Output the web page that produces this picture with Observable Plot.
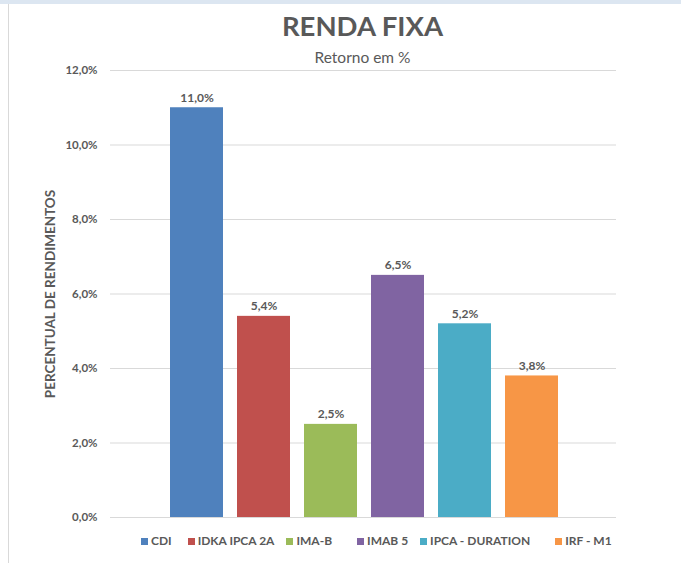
<!DOCTYPE html>
<html><head><meta charset="utf-8">
<script src="https://cdn.jsdelivr.net/npm/d3@7"></script>
<script src="https://cdn.jsdelivr.net/npm/@observablehq/plot@0.6"></script>
<style>
html,body{margin:0;padding:0;background:#fff;}
body{width:681px;height:563px;overflow:hidden;position:relative;font-family:Lato,"Open Sans",sans-serif;color:#595959;}
#topbar{position:absolute;left:0;top:0;width:681px;height:4px;background:#dce6f1;z-index:2;}
#leftline{position:absolute;left:8px;top:4px;width:1px;height:559px;background:#d9d9d9;z-index:2;}
#title{position:absolute;left:0;top:9px;width:725px;text-align:center;font-weight:700;font-size:27.5px;line-height:34px;}
#subtitle{position:absolute;left:0;top:47px;width:725px;text-align:center;font-size:15.5px;line-height:20px;}
#chart{position:absolute;left:0;top:64px;}
#chart svg{background:transparent !important;}
#legend{position:absolute;left:141px;top:533px;display:flex;gap:0;font-weight:700;font-size:12px;line-height:16px;}
#legend .it{display:flex;align-items:center;}
#legend .sw{width:7px;height:7px;margin-right:3px;}
</style></head>
<body>
<div id="topbar"></div>
<div id="leftline"></div>
<div id="title">RENDA FIXA</div>
<div id="subtitle">Retorno em %</div>
<div id="chart"></div>
<div id="legend"></div>
<script>
const categories = ["CDI", "IDKA IPCA 2A", "IMA-B", "IMAB 5", "IPCA - DURATION", "IRF - M1"];
const values = [11.0, 5.4, 2.5, 6.5, 5.2, 3.8];
const colors = ["#4f81bd", "#c0504d", "#9bbb59", "#8064a2", "#4bacc6", "#f79646"];
const yTicks = [0, 2, 4, 6, 8, 10, 12];
const yLabel = "PERCENTUAL DE RENDIMENTOS";

const data = categories.map((c, i) => ({cat: c, value: values[i]}));
const fmt = d => d.toFixed(1).replace(".", ",") + "%";

const chart = Plot.plot({
  width: 681,
  height: 463,
  marginTop: 6,
  marginBottom: 10,
  marginLeft: 110,
  marginRight: 65,
  style: {fontFamily: "Lato, 'Open Sans', sans-serif", color: "#595959", background: "transparent"},
  x: {domain: categories, paddingInner: 0.21, paddingOuter: 0.105, range: [162, 565], axis: null},
  y: {domain: [0, 12], ticks: yTicks},
  color: {domain: categories, range: colors},
  marks: [
    Plot.gridY(yTicks, {stroke: "#d9d9d9", strokeOpacity: 1, strokeWidth: 1}),
    Plot.axisY(yTicks, {tickSize: 0, tickPadding: 13, tickFormat: fmt, label: null, fontWeight: "bold", fontSize: 11.5, fill: "#595959"}),
    Plot.barY(data, {x: "cat", y: "value", fill: "cat"}),
    Plot.text(data, {x: "cat", y: "value", text: d => fmt(d.value), lineAnchor: "bottom", dy: -6, fontWeight: "bold", fontSize: 12, fill: "#595959"}),
    Plot.text([yLabel], {frameAnchor: "left", textAnchor: "middle", dx: -60, rotate: -90, text: d => d, fontWeight: "bold", fontSize: 13.5, fill: "#595959"})
  ]
});
document.getElementById("chart").appendChild(chart);

const legend = document.getElementById("legend");
const gaps = [16, 12, 25, 12, 25];
categories.forEach((c, i) => {
  const it = document.createElement("div");
  it.className = "it";
  if (i < categories.length - 1) it.style.marginRight = gaps[i] + "px";
  const sw = document.createElement("div");
  sw.className = "sw";
  sw.style.background = colors[i];
  const t = document.createElement("span");
  t.textContent = c;
  it.appendChild(sw); it.appendChild(t);
  legend.appendChild(it);
});
</script>
</body></html>
